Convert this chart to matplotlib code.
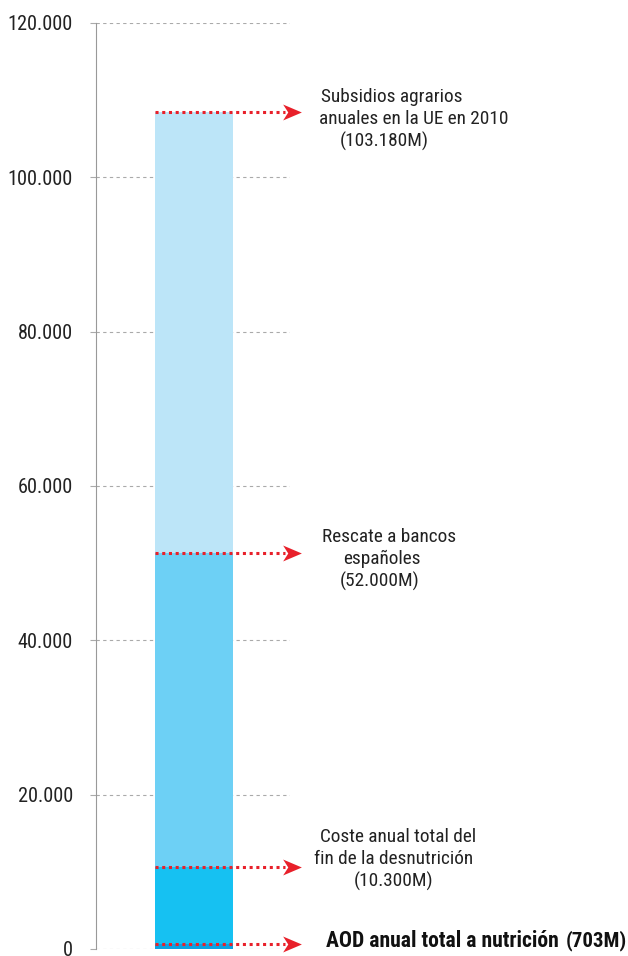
import matplotlib as mpl
mpl.use('Agg')
import matplotlib.pyplot as plt
from matplotlib.path import Path

# valores (millones de euros)
segment_tops = [703, 10600, 51300, 108500]
segment_colors = ['#0aa2e2', '#16c1f2', '#6dd0f5', '#bce5f8']
arrow_levels = [703, 10600, 51300, 108500]
yticks = [0, 20000, 40000, 60000, 80000, 100000, 120000]
ytick_labels = ['0', '20.000', '40.000', '60.000', '80.000', '100.000', '120.000']

# textos: (lineas, x en px de cada linea, valor y de la primera linea)
labels = [
    (['Subsidios agrarios', 'anuales en la UE en 2010', '(103.180M)'], [321, 319, 340], 109800),
    (['Rescate a bancos', 'españoles', '(52.000M)'], [322, 343, 340], 52780),
    (['Coste anual total del', 'fin de la desnutrición', '(10.300M)'], [320, 314, 354], 13900),
]
line_step = 2930
red = '#e8202a'

plt.rcParams['font.family'] = ['Roboto Condensed', 'Archivo Narrow', 'DejaVu Sans']

fig = plt.figure(figsize=(6.28, 9.56), dpi=100)
ax = fig.add_axes([96 / 628, 1 - 949 / 956, 194 / 628, 926 / 956])

bottom = 0
for top, c in zip(segment_tops, segment_colors):
    ax.bar(0, top - bottom, bottom=bottom, width=1.0, color=c, zorder=2)
    bottom = top

x0 = -1.256   # borde izquierdo del eje
px = 1 / 78.0  # una unidad x = ancho de la barra = 78 px
ax.set_xlim(x0, x0 + 194 * px)
ax.set_ylim(0, 120000)
ax.set_yticks(yticks)
ax.set_yticklabels(ytick_labels, fontsize=14.6, color='#222222')
ax.set_xticks([])
ax.yaxis.grid(True, linestyle=(0, (3, 3)), color='#aaaaaa', linewidth=0.8)
ax.set_axisbelow(True)
ax.tick_params(axis='y', length=4, color='#aaaaaa', pad=12.5)
for s in ['top', 'right', 'bottom']:
    ax.spines[s].set_visible(False)
ax.spines['left'].set_color('#999999')

# punta de flecha con muesca
head = Path([(1, 0), (-1, 0.85), (-0.45, 0), (-1, -0.85), (1, 0)],
            [Path.MOVETO, Path.LINETO, Path.LINETO, Path.LINETO, Path.CLOSEPOLY])

for lv in arrow_levels:
    ax.plot([-0.5, x0 + (285 - 96) * px], [lv, lv], linestyle=(0, (1, 1.2)), color=red,
            linewidth=2.2, zorder=3, clip_on=False)
    ax.plot([x0 + (292 - 96) * px], [lv], marker=head, markersize=13.5, color=red,
            markeredgewidth=0, zorder=4, clip_on=False)

for lines, xs, y0 in labels:
    for i, (t, x) in enumerate(zip(lines, xs)):
        ax.text(x0 + (x - 96) * px, y0 - i * line_step, t, fontsize=13.9,
                color='#222222', va='baseline', ha='left', clip_on=False)

ax.text(x0 + (326 - 96) * px, 260, 'AOD anual total a nutrición', fontsize=15.6,
        fontweight='bold', color='#111111', va='baseline', ha='left')
ax.text(x0 + (566 - 96) * px, 300, '(703M)', fontsize=15,
        fontweight='bold', color='#111111', va='baseline', ha='left')

fig.savefig('out.png', dpi=100)
plt.close(fig)
